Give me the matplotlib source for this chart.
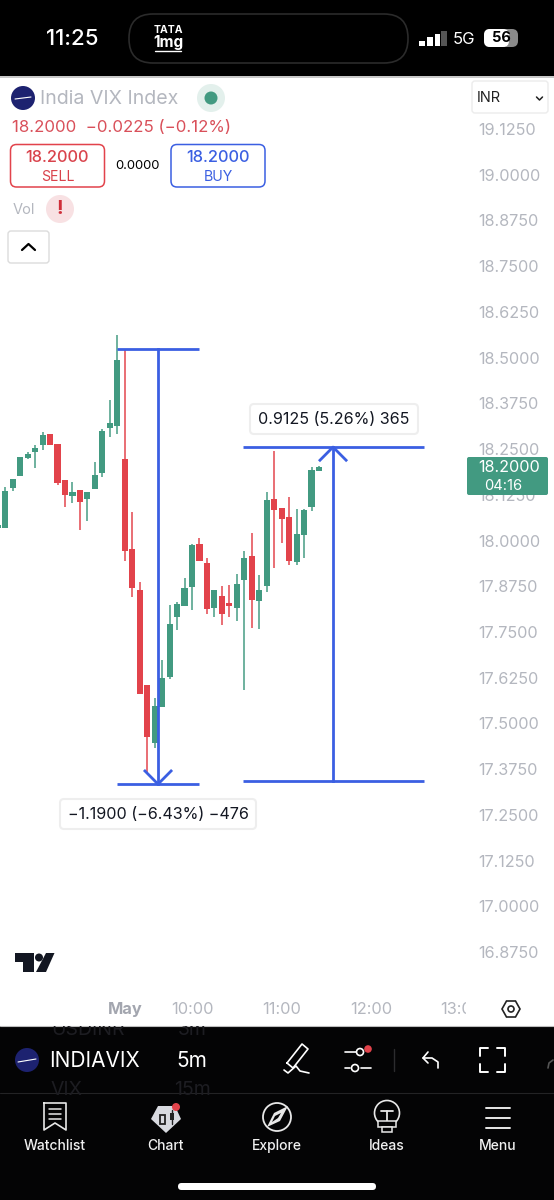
# -*- coding: utf-8 -*-
# India VIX 5m candles, phone screenshot of the chart app
import matplotlib
matplotlib.use("Agg")
import matplotlib.pyplot as plt
from matplotlib.patches import Rectangle, Circle, FancyBboxPatch, Polygon

plt.rcParams['font.family'] = ['Inter', 'DejaVu Sans']

################################################################################
# Data
################################################################################
# first candle (index -1) is cut by the left edge
candle_idx = list(range(-1, 43))
opens = [18.033, 18.033, 18.143, 18.176, 18.226, 18.243, 18.260, 18.291, 18.264, 18.165, 18.122, 18.138,
         18.114, 18.141, 18.185, 18.307, 18.313, 18.223, 17.976, 17.866, 17.606, 17.447, 17.544, 17.628,
         17.791, 17.821, 17.874, 17.991, 17.939, 17.815, 17.848, 17.828, 17.816, 17.892, 17.959, 17.834,
         17.877, 18.114, 18.090, 18.064, 17.940, 18.014, 18.091, 18.189]
highs = [18.043, 18.147, 18.169, 18.228, 18.242, 18.260, 18.296, 18.291, 18.264, 18.165, 18.161, 18.138,
         18.133, 18.216, 18.306, 18.384, 18.561, 18.524, 18.079, 17.886, 17.606, 17.569, 17.673, 17.824,
         17.833, 17.898, 17.991, 18.006, 17.951, 17.866, 17.875, 17.878, 17.908, 17.972, 18.021, 17.906,
         18.133, 18.246, 18.090, 18.120, 18.085, 18.085, 18.202, 18.205]
lows = [18.030, 18.033, 18.135, 18.176, 18.222, 18.197, 18.247, 18.260, 18.152, 18.091, 18.102, 18.029,
        18.052, 18.141, 18.175, 18.282, 18.290, 17.943, 17.846, 17.581, 17.364, 17.432, 17.544, 17.621,
        17.755, 17.821, 17.810, 17.944, 17.800, 17.791, 17.770, 17.792, 17.780, 17.590, 17.760, 17.758,
        17.860, 17.926, 17.994, 17.934, 17.934, 17.953, 18.081, 18.189]
closes = [18.043, 18.135, 18.169, 18.228, 18.237, 18.253, 18.288, 18.260, 18.158, 18.125, 18.133, 18.105,
          18.133, 18.178, 18.299, 18.321, 18.494, 17.971, 17.869, 17.581, 17.464, 17.548, 17.623, 17.772,
          17.827, 17.870, 17.987, 17.944, 17.812, 17.866, 17.798, 17.821, 17.880, 17.951, 17.837, 17.866,
          18.111, 18.083, 18.059, 17.945, 18.019, 18.083, 18.192, 18.201]

price_ticks = [19.125 - 0.125 * k for k in range(19)]
time_tick_idx = [16, 25, 37, 49, 61]
time_tick_labels = ['May', '10:00', '11:00', '12:00', '13:00']

# measure tools drawn on the chart
drop_top, drop_bottom = 18.524, 17.334
drop_left, drop_right, drop_mid = 14.9, 26.0, 20.45
rise_top, rise_bottom = 18.2555, 17.343
rise_left, rise_right, rise_mid = 31.83, 56.06, 43.88
arm_dx, arm_dy = 1.75, 0.036

green = '#429a81'
red = '#e2434b'
blue = '#3b5fe2'
grey = '#b4b7bf'

W, H = 554, 1200
fig = plt.figure(figsize=(W / 100, H / 100), dpi=100, facecolor='white')

################################################################################
# Candles
################################################################################
ax = fig.add_axes([0, (H - 1026) / H, 466 / W, (1026 - 76) / H])
ax.set_xlim(-0.703, 61.68)
ax.set_ylim(16.6728, 19.2699)
for s in ax.spines.values():
    s.set_visible(False)

colors = [green if c >= o else red for o, c in zip(opens, closes)]
ax.vlines(candle_idx, lows, highs, colors=colors, lw=1.2, alpha=0.9, zorder=2)
ax.bar(candle_idx, [abs(c - o) for o, c in zip(opens, closes)],
       bottom=[min(o, c) for o, c in zip(opens, closes)], width=0.82, color=colors, zorder=3)

# drop measure
ax.plot([drop_left, drop_right], [drop_top, drop_top], color=blue, lw=2, zorder=4, solid_capstyle='butt')
ax.plot([drop_left, drop_right], [drop_bottom, drop_bottom], color=blue, lw=2, zorder=4, solid_capstyle='butt')
ax.plot([drop_mid, drop_mid], [drop_top, drop_bottom], color=blue, lw=2, zorder=4)
ax.plot([drop_mid - arm_dx, drop_mid, drop_mid + arm_dx],
        [drop_bottom + arm_dy, drop_bottom, drop_bottom + arm_dy], color=blue, lw=2, zorder=4)
# rise measure
ax.plot([rise_left, rise_right], [rise_top, rise_top], color=blue, lw=2, zorder=4, solid_capstyle='butt')
ax.plot([rise_left, rise_right], [rise_bottom, rise_bottom], color=blue, lw=2, zorder=4, solid_capstyle='butt')
ax.plot([rise_mid, rise_mid], [rise_top, rise_bottom], color=blue, lw=2, zorder=4)
ax.plot([rise_mid - arm_dx, rise_mid, rise_mid + arm_dx],
        [rise_top - arm_dy, rise_top, rise_top - arm_dy], color=blue, lw=2, zorder=4)

ax.yaxis.tick_right()
ax.set_yticks(price_ticks)
ax.set_yticklabels(['%.4f' % p for p in price_ticks], color=grey, fontsize=11.7)
ax.tick_params(axis='y', length=0, pad=9)
ax.set_xticks(time_tick_idx)
ax.set_xticklabels(time_tick_labels, color=grey, fontsize=11.8)
ax.tick_params(axis='x', length=0, pad=-17)
for lab in ax.get_xticklabels():
    lab.set_clip_box(ax.bbox)
    lab.set_clip_on(True)
ax.get_xticklabels()[0].set_fontweight('bold')
ax.get_xticklabels()[0].set_color('#a3a6af')

################################################################################
# Screen furniture, in pixels
################################################################################
ui = fig.add_axes([0, 0, 1, 1], zorder=5)
ui.set_xlim(0, W)
ui.set_ylim(H, 0)
ui.axis('off')
ui.patch.set_alpha(0)


def box(x0, y0, x1, y1, r=4, fc='white', ec='none', lw=1.0, z=2):
    p = FancyBboxPatch((x0 + r, y0 + r), x1 - x0 - 2 * r, y1 - y0 - 2 * r, boxstyle='round,pad=%g,rounding_size=%g' % (r, r),
                       fc=fc, ec=ec, lw=lw, zorder=z)
    ui.add_patch(p)
    return p


def line(xs, ys, c='white', lw=1.2, z=4):
    ui.plot(xs, ys, color=c, lw=lw, solid_capstyle='round', solid_joinstyle='round', zorder=z)


def txt(x, y, s, c='black', size=11, ha='center', w='normal', z=5):
    return ui.text(x, y, s, color=c, fontsize=size, ha=ha, va='center', fontweight=w, zorder=z)


# top status bar
ui.add_patch(Rectangle((0, 0), W, 76, fc='black', ec='none', zorder=1))
ui.add_patch(Rectangle((0, 76), W, 1.5, fc='#c9c9c9', ec='none', zorder=1))
txt(72, 39, '11:25', 'white', 16, w='medium')
box(129, 14, 408, 63, r=24, fc='black', ec='#2b2b2b', lw=1.2)
txt(168, 30, 'TATA', 'white', 7.5, w='bold')
txt(168, 43, '1mg', 'white', 11, w='bold')
line([155, 181], [51, 51], 'white', 1)
for bx, bh, bc in [(419, 5, 'white'), (427, 9, 'white'), (434.5, 12, 'white'), (441, 15, '#555555')]:
    ui.add_patch(Rectangle((bx, 46 - bh), 5.5, bh, fc=bc, ec='none', zorder=3))
txt(464, 39, '5G', 'white', 12)
box(484, 29, 518, 47, r=6, fc='#8a8a8a')
box(484, 29, 509, 47, r=6, fc='white', z=3)
txt(501, 38.5, '56', 'black', 10.5, w='bold')

# header over the chart
ui.add_patch(Circle((23, 98), 12, fc='#1d2270', ec='none', zorder=3))
line([15, 31], [99, 97], 'white', 0.8)
txt(40, 99, 'India VIX Index', grey, 14.1, ha='left')
ui.add_patch(Circle((211, 98), 14, fc='#e3f0ec', ec='none', zorder=3))
ui.add_patch(Circle((211, 98), 6.5, fc=green, ec='none', zorder=4))
txt(12, 127.5, '18.2000  \u22120.0225 (\u22120.12%)', '#d9505a', 12.1, ha='left')
box(10.5, 144.5, 104.5, 187, r=6, fc='white', ec=red, lw=1.1)
txt(57.5, 158, '18.2000', '#d9434c', 11.8, w='medium')
txt(57.5, 177, 'SELL', '#d9434c', 10.2)
txt(137, 166, '0.0000', 'black', 9.4)
box(171, 144.5, 265, 187, r=6, fc='white', ec=blue, lw=1.1)
txt(218, 158, '18.2000', blue, 11.8, w='medium')
txt(218, 177, 'BUY', blue, 10.2)
txt(24, 210, 'Vol', grey, 10.5)
ui.add_patch(Circle((60, 209), 14, fc='#f8e1e3', ec='none', zorder=3))
txt(60, 208.5, '!', '#cf2f3a', 14, w='bold')
box(8, 231, 49, 263, r=3, fc='white', ec='#dcdcdc', lw=1)
line([22, 28.5, 35], [250, 244, 250], 'black', 1.6)
box(472, 81, 548, 113, r=3, fc='white', ec='#ececec', lw=1)
txt(477, 98, 'INR', '#222222', 10.5, ha='left')
line([536.5, 539.5, 542.5], [97, 100, 97], '#222222', 1.1)

# measure labels
box(250, 404, 418, 434, r=4, fc='white', ec='#eeeeee', lw=1.5)
txt(334, 419.5, '0.9125 (5.26%) 365', '#131722', 11.6)
box(60, 799, 256, 829, r=4, fc='white', ec='#eeeeee', lw=1.5)
txt(158, 814.5, '\u22121.1900 (\u22126.43%) \u2212476', '#131722', 11.6)

# live price tag
box(467, 457, 548, 495, r=2, fc=green)
txt(509, 468, '18.2000', 'white', 11.7)
txt(503, 486, '04:16', 'white', 10.6)

# watermark logo
ui.add_patch(Polygon([(15, 953), (33.5, 953), (33.5, 972), (23, 972), (23, 962), (15, 962)], fc='#131722', ec='none', zorder=3))
ui.add_patch(Circle((39, 957.5), 4, fc='#131722', ec='none', zorder=3))
ui.add_patch(Polygon([(46, 953), (54.5, 953), (46, 972), (36, 972)], fc='#131722', ec='none', zorder=3))

# settings hexagon
ui.add_patch(Polygon([(502, 1009), (506.5, 1001), (515.5, 1001), (520, 1009), (515.5, 1017), (506.5, 1017)],
                     fc='white', ec='#222222', lw=1.2, zorder=3))
ui.add_patch(Circle((511, 1009), 3, fc='white', ec='#222222', lw=1.2, zorder=4))

# bottom bars
band = Rectangle((0, 1026), W, 174, fc='#040405', ec='none', zorder=1)
ui.add_patch(band)
line([0, W], [1026, 1026], '#bdbdbd', 0.8, 3)
line([0, W], [1093, 1093], '#232325', 0.8, 3)
for fx, fy, fs in [(88, 1030, 'USDINR'), (192, 1030, '3m'), (66, 1090, 'VIX'), (192, 1090, '15m')]:
    t = txt(fx, fy, fs, '#1d1d22', 14)
    t.set_clip_path(band)
    t.set_clip_on(True)
ui.add_patch(Circle((27, 1060), 12, fc='#1d2270', ec='none', zorder=3))
line([18, 36], [1062, 1059], 'white', 0.8)
txt(49, 1061, 'INDIAVIX', 'white', 15, ha='left')
txt(176, 1061, '5m', 'white', 15, ha='left')

# pen
line([287, 302, 308, 293, 287], [1063, 1044, 1049, 1068, 1063])
line([284, 288, 296, 300, 309], [1070, 1073, 1066, 1071, 1073])
# sliders
line([345, 360], [1052, 1052])
line([345, 350], [1068, 1068])
line([361, 371], [1068, 1068])
ui.add_patch(Circle((360, 1052), 3.5, fc='#040405', ec='white', lw=1.2, zorder=4))
ui.add_patch(Circle((355, 1068), 3.5, fc='#040405', ec='white', lw=1.2, zorder=4))
ui.add_patch(Circle((368, 1049), 3.8, fc=red, ec='none', zorder=5))
line([394, 394], [1049, 1071], '#2c2c2e', 1)
# undo
line([428, 423, 428], [1052, 1058, 1063])
line([423, 432, 438, 438], [1058, 1058, 1062, 1068])
# full screen corners
for cx, cy, dx, dy in [(480, 1048, 1, 1), (505, 1048, -1, 1), (480, 1072, 1, -1), (505, 1072, -1, -1)]:
    line([cx + dx * 8, cx, cx], [cy, cy, cy + dy * 8], 'white', 1.4)
line([548, 549, 553], [1068, 1063, 1060], '#555555', 1.2)

# nav bar
for nx, ns in [(55, 'Watchlist'), (166, 'Chart'), (277, 'Explore'), (387, 'Ideas'), (498, 'Menu')]:
    txt(nx, 1146, ns, '#f0f0f0', 10, w='medium')
# watchlist
line([44, 66, 66, 55, 44, 44], [1103, 1103, 1130, 1123, 1130, 1103], '#e8e8e8', 1.2)
for ly in (1109, 1114, 1119):
    line([49, 61], [ly, ly], '#e8e8e8', 1.1)
# chart
ui.add_patch(Polygon([(151, 1119), (158, 1106), (175, 1106), (181, 1119), (166, 1133)], fc='#d8dae0', ec='none', zorder=3))
ui.add_patch(Rectangle((160, 1115), 5, 9, fc='#d8dae0', ec='#222222', lw=1.3, zorder=4))
ui.add_patch(Rectangle((170, 1113), 4, 7, fc='#222222', ec='none', zorder=4))
line([172, 172], [1110, 1124], '#222222', 1)
ui.add_patch(Circle((176, 1107), 4, fc=red, ec='none', zorder=5))
# explore
ui.add_patch(Circle((277, 1117), 14, fc='none', ec='#e8e8e8', lw=1.3, zorder=4))
ui.add_patch(Polygon([(288, 1106), (280, 1121), (267, 1127), (274, 1113)], fc='#e8e8e8', ec='none', zorder=4))
ui.add_patch(Polygon([(281, 1113), (278, 1118), (272, 1122), (275, 1116)], fc='#040405', ec='none', zorder=5))
# ideas
ui.add_patch(Circle((387, 1113), 12.5, fc='none', ec='#e8e8e8', lw=1.2, zorder=4))
line([381, 393], [1111, 1111], '#e8e8e8', 1.3, 5)
line([387, 387], [1111, 1121], '#e8e8e8', 1.3, 5)
ui.add_patch(Rectangle((378, 1121), 18, 6, fc='#040405', ec='#e8e8e8', lw=1.1, zorder=5))
ui.add_patch(Rectangle((382, 1127), 10, 5, fc='#040405', ec='#e8e8e8', lw=1.1, zorder=5))
# menu
for ly in (1108, 1118, 1128):
    line([486, 510], [ly, ly], '#e8e8e8', 1.4)
box(178, 1183, 376, 1190, r=3.5, fc='white', z=4)

fig.savefig('out.png', dpi=100, facecolor='white')
